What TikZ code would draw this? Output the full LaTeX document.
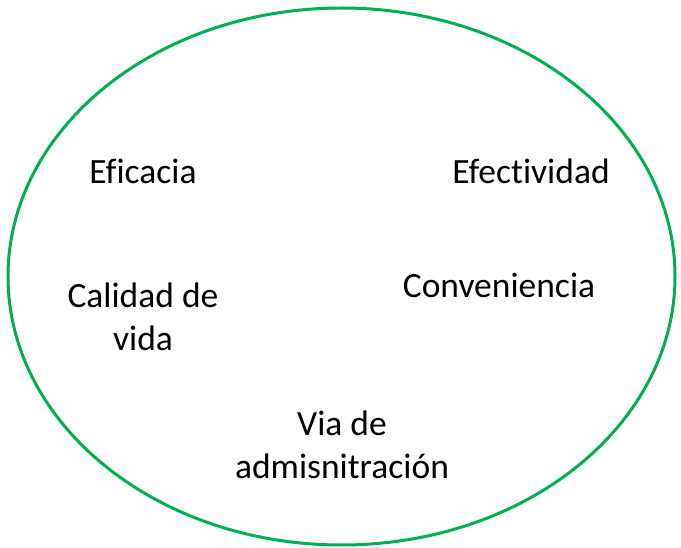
\documentclass[tikz,border=0pt]{standalone}
\usepackage{fontspec}
\setmainfont[Ligatures={NoCommon}]{Carlito}
\usepackage{tikz}
\usetikzlibrary{positioning}
\definecolor{ovalgreen}{RGB}{0,176,80}
\tikzset{
    concept/.style={
           align=center,
           inner sep=0pt,
           font=\fontsize{35.5}{43}\selectfont,
           text=black,
           },
}

\begin{document}
\begin{tikzpicture}[x=1pt,y=1pt]
   \useasboundingbox (0,0) rectangle (681,547);
   \draw[ovalgreen, line width=3pt] (341.5,270.5) ellipse [x radius=333.5, y radius=268.5];
   \node[concept] (eficacia)     at (143,376) {Eficacia};
   \node[concept] (efectividad)  at (531,376) {Efectividad};
   \node[concept] (calidad)      at (143,230) {Calidad de\\vida};
   \node[concept] (conveniencia) at (499,262) {Conveniencia};
   \node[concept] (via)          at (342,102) {Via de\\admisnitración};
\end{tikzpicture}
\end{document}
